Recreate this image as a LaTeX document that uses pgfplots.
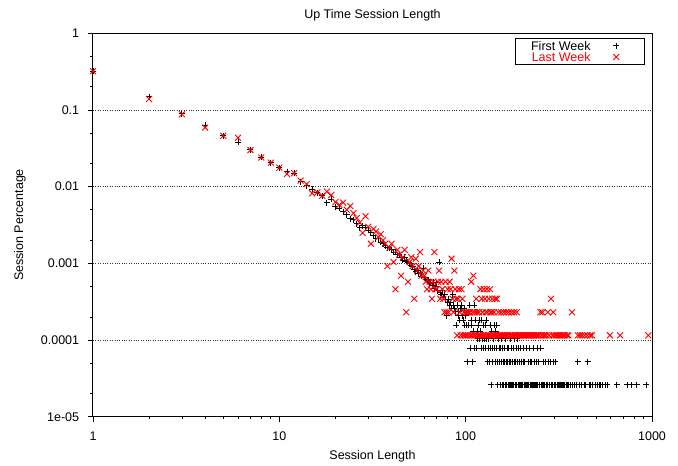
\documentclass[border=0pt]{standalone}
\usepackage{pgfplots}
\pgfplotsset{compat=1.18}
\usepackage{fontspec}
\setmainfont{Liberation Sans}
\pgfplotsset{myleg/.style={legend image code/.code={\path[draw=none,fill=none] (-8bp,-3bp) rectangle (12.3bp,3bp);
    \draw[##1] plot coordinates {(0bp,0bp)};}}}
\pgfplotstableread{
x y
1 0.32
2 0.149
3 0.0895
4 0.0637
5 0.046
6 0.038
7 0.0303
8 0.0242
9 0.0206
10 0.0177
11 0.0157
12 0.0150
13 0.0116
14 0.0103
15 0.0093
16 0.0083
17 0.0076
18 0.0062
19 0.0069
20 0.0055
21 0.0052
22 0.0047
23 0.0043
24 0.0038
25 0.0037
26 0.0033
27 0.0029
28 0.0031
29 0.0029
30 0.0027
31 0.0025
32 0.0023
33 0.0021
34 0.0021
35 0.0019
36 0.0018
37 0.0017
38 0.0016
39 0.0016
40 0.0015
41 0.0014
42 0.0014
43 0.0013
44 0.0013
45 0.0012
46 0.0011
47 0.0012
48 0.00107
49 0.00104
50 0.00099
51 0.00094
52 0.00091
53 0.00083
54 0.00078
55 0.00081
56 0.00073
57 0.00075
58 0.00068
59 0.00086
60 0.00065
61 0.00062
62 0.00060
63 0.00061
64 0.00057
65 0.00055
66 0.00052
67 0.00057
68 0.00047
69 0.00050
70 0.00056
71 0.000442
72 0.00104
73 0.000416
74 0.00039
75 0.000442
76 0.000364
77 0.00039
78 0.000338
79 0.000208
80 0.000312
81 0.000338
82 0.000286
83 0.000312
84 0.00026
85 0.00039
86 0.000286
87 0.00026
88 0.000234
89 0.000156
90 0.000286
91 0.000208
92 0.000234
93 0.000182
94 0.00026
95 0.000286
96 0.000208
97 0.000182
98 0.00026
99 0.000156
100 0.000208
101 0.000156
102 0.000052
103 0.000156
104 0.000234
105 0.000286
106 0.000078
107 0.000182
108 0.000156
109 0.000052
110 0.00013
111 0.000286
112 0.000078
113 0.000182
114 0.000078
115 0.00013
116 0.000104
117 0.000156
118 0.000182
119 0.000104
120 0.00013
121 0.000078
122 0.000182
123 0.000104
124 0.000156
125 0.000078
126 0.000104
127 0.000156
128 0.000078
129 0.000182
130 0.000104
131 0.000052
132 0.000078
133 0.000104
134 0.000052
135 0.000156
136 0.000078
137 0.000026
138 0.00013
139 0.000078
140 0.000052
141 0.000104
142 0.000078
143 0.000156
144 0.000052
145 0.00013
146 0.000078
147 0.000156
148 0.000052
149 0.000026
150 0.000104
151 0.000078
152 0.000052
153 0.000026
154 0.000078
155 0.000052
156 0.000104
157 0.000026
158 0.000078
159 0.000052
160 0.000026
161 0.000078
162 0.000052
163 0.000026
164 0.000104
165 0.000052
166 0.000026
167 0.000078
168 0.000052
169 0.000026
170 0.000078
171 0.000052
172 0.000026
173 0.000104
174 0.000026
175 0.000052
176 0.000078
177 0.000026
178 0.000052
179 0.000026
180 0.000078
181 0.000026
182 0.000052
183 0.000104
184 0.000026
185 0.000052
186 0.000026
187 0.000078
188 0.000026
189 0.000104
190 0.000052
191 0.000026
192 0.000078
193 0.000026
194 0.000052
195 0.000026
196 0.000026
197 0.000078
198 0.000026
199 0.000052
200 0.000026
202 0.000026
203 0.000078
204 0.000052
206 0.000026
207 0.000052
208 0.000026
210 0.000026
211 0.000078
213 0.000026
215 0.000026
216 0.000052
218 0.000026
220 0.000078
222 0.000052
223 0.000026
225 0.000026
226 0.000052
228 0.000026
230 0.000078
232 0.000026
234 0.000052
235 0.000026
237 0.000026
239 0.000052
240 0.000026
242 0.000078
244 0.000026
246 0.000052
248 0.000026
250 0.000026
253 0.000078
255 0.000026
258 0.000026
260 0.000052
263 0.000026
266 0.000026
268 0.000052
271 0.000026
274 0.000026
277 0.000052
280 0.000026
283 0.000026
286 0.000052
289 0.000026
292 0.000026
296 0.000052
300 0.000026
302 0.000052
305 0.000026
309 0.000026
313 0.000026
318 0.000026
322 0.000026
327 0.000026
331 0.000026
336 0.000026
341 0.000026
346 0.000026
352 0.000026
358 0.000026
364 0.000026
376 0.000026
385 0.000026
392 0.000026
400 0.000052
410 0.000026
420 0.000026
432 0.000026
440 0.000026
452 0.000052
460 0.000026
470 0.000026
482 0.000026
495 0.000026
508 0.000026
520 0.000026
530 0.000026
545 0.000026
560 0.000026
575 0.000026
646 0.000026
735 0.000026
780 0.000026
830 0.000026
928 0.000026
}\firstweek
\pgfplotstableread{
x y
1 0.32
2 0.139
3 0.088
4 0.059
5 0.046
6 0.0435
7 0.0300
8 0.0240
9 0.0206
10 0.0177
11 0.0146
12 0.0150
13 0.0120
14 0.0108
15 0.0082
16 0.0084
17 0.0076
18 0.0086
19 0.0078
20 0.0063
21 0.0058
22 0.0062
23 0.0050
24 0.0056
25 0.0045
26 0.0039
27 0.0034
28 0.0025
29 0.0041
30 0.0030
31 0.0018
32 0.0028
33 0.0026
34 0.0022
35 0.0024
36 0.0020
37 0.0018
38 0.00092
39 0.0016
40 0.0018
41 0.00104
42 0.00046
43 0.0015
44 0.0013
45 0.00069
46 0.0012
47 0.0015
48 0.00023
49 0.000575
50 0.00104
51 0.0012
52 0.00092
53 0.000345
54 0.00115
55 0.000805
56 0.00092
57 0.0014
58 0.00069
59 0.000805
60 0.00069
61 0.000575
62 0.00046
63 0.000805
64 0.000575
65 0.00046
66 0.000345
67 0.000575
68 0.0014
69 0.00046
70 0.00046
71 0.000575
72 0.000805
73 0.000345
74 0.000575
75 0.00046
76 0.000345
77 0.00023
78 0.000575
79 0.00023
80 0.00046
81 0.00023
82 0.000575
83 0.00046
84 0.00115
85 0.000345
86 0.00023
87 0.000805
88 0.00046
89 0.000345
90 0.000115
91 0.000345
92 0.00046
93 0.00023
94 0.000115
95 0.00046
96 0.000345
97 0.000115
98 0.00023
99 0.000115
100 0.00023
101 0.000115
102 0.00023
103 0.000115
104 0.00023
105 0.00023
106 0.000115
107 0.000575
108 0.000115
109 0.00023
110 0.00069
111 0.000115
112 0.00023
113 0.000115
114 0.000345
115 0.00023
116 0.000115
117 0.000115
118 0.00023
119 0.000115
120 0.00046
121 0.000115
122 0.000345
123 0.00023
124 0.000115
125 0.00046
126 0.000115
127 0.000345
128 0.00023
129 0.000115
130 0.00046
131 0.00023
132 0.000115
133 0.000345
134 0.000115
135 0.00046
136 0.00023
137 0.000115
138 0.00023
139 0.000345
140 0.000115
142 0.00023
143 0.000115
144 0.000345
145 0.000115
147 0.000345
148 0.000115
150 0.00023
151 0.000115
153 0.000115
155 0.00023
156 0.000115
158 0.000115
160 0.00023
161 0.000115
163 0.000115
165 0.00023
166 0.000115
168 0.000115
170 0.00023
172 0.000115
174 0.000115
176 0.00023
178 0.000115
180 0.000115
182 0.00023
184 0.000115
186 0.000115
188 0.00023
190 0.000115
193 0.000115
196 0.000115
199 0.000115
202 0.000115
205 0.000115
208 0.000115
211 0.000115
214 0.000115
217 0.000115
220 0.000115
223 0.000115
226 0.000115
230 0.000115
233 0.000115
237 0.000115
240 0.000115
244 0.000115
248 0.000115
252 0.00023
256 0.000115
258 0.00023
262 0.000115
266 0.000115
270 0.000115
276 0.00023
280 0.000115
287 0.000345
292 0.000115
295 0.00023
298 0.000115
305 0.000115
310 0.000115
316 0.000115
322 0.000115
328 0.000115
335 0.000115
342 0.000115
350 0.000115
356 0.000115
372 0.00023
400 0.000115
410 0.000115
420 0.000115
435 0.000115
450 0.000115
465 0.000115
475 0.000115
595 0.000115
675 0.000115
955 0.000115
}\lastweek
\begin{document}
\fontsize{12.5bp}{15bp}\selectfont
\begin{tikzpicture}
\useasboundingbox (-93bp,-49.3bp) rectangle (585bp,416.7bp);
\begin{axis}[
  scale only axis, width=559bp, height=383.4bp,
  at={(0,0)}, anchor=south west,
  xmode=log, ymode=log,
  xmin=1, xmax=1000, ymin=1e-5, ymax=1,
  xtick={1,10,100,1000}, xticklabels={1,10,100,1000},
  ytick={1e-5,1e-4,1e-3,1e-2,1e-1,1},
  yticklabels={1e-05,0.0001,0.001,0.01,0.1,1},
  minor xtick={2,3,4,5,6,7,8,9,20,30,40,50,60,70,80,90,200,300,400,500,600,700,800,900},
  minor ytick={2e-5,5e-5,2e-4,5e-4,2e-3,5e-3,0.02,0.05,0.2,0.5},
  tick align=inside, xtick pos=left, ytick pos=left,
  major tick length=-5bp, minor tick length=-2.7bp,
  tick style={black, line width=0.8bp},
  xticklabel style={anchor=north, yshift=-10.8bp},
  yticklabel style={anchor=east, xshift=-9.5bp},
  axis line style={line width=1bp},
  ymajorgrids, major grid style={dotted, line width=0.6bp, black!80},
  title={Up Time Session Length},
  title style={at={(axis description cs:0.5,1.0386)}, anchor=base, yshift=-6pt},
  xlabel={Session Length},
  xlabel style={at={(axis description cs:0.5,-0.1116)}, anchor=base},
  ylabel={Session Percentage},
  ylabel style={at={(axis description cs:-0.1252,0.5)}, anchor=base},
  legend plot pos=right,
  legend cell align=right,
  legend style={at={(axis description cs:1,1)}, anchor=north east,
    xshift=-7bp, yshift=-5bp, draw=black, line width=0.8bp,
    inner xsep=16bp, inner ysep=2.5bp, row sep=2.3bp, column sep=17.7bp,
    nodes={inner sep=0pt, text height=9bp, text depth=0pt}},
]
\addplot[only marks, mark=+, mark size=3bp, black, line width=0.9bp, myleg]
  table[x=x,y=y] {\firstweek};
\addlegendentry{First Week}
\addplot[only marks, mark=x, mark size=4.2bp, red, line width=0.9bp, myleg]
  table[x=x,y=y] {\lastweek};
\addlegendentry{\textcolor{red}{Last Week}}
\end{axis}
\end{tikzpicture}
\end{document}
